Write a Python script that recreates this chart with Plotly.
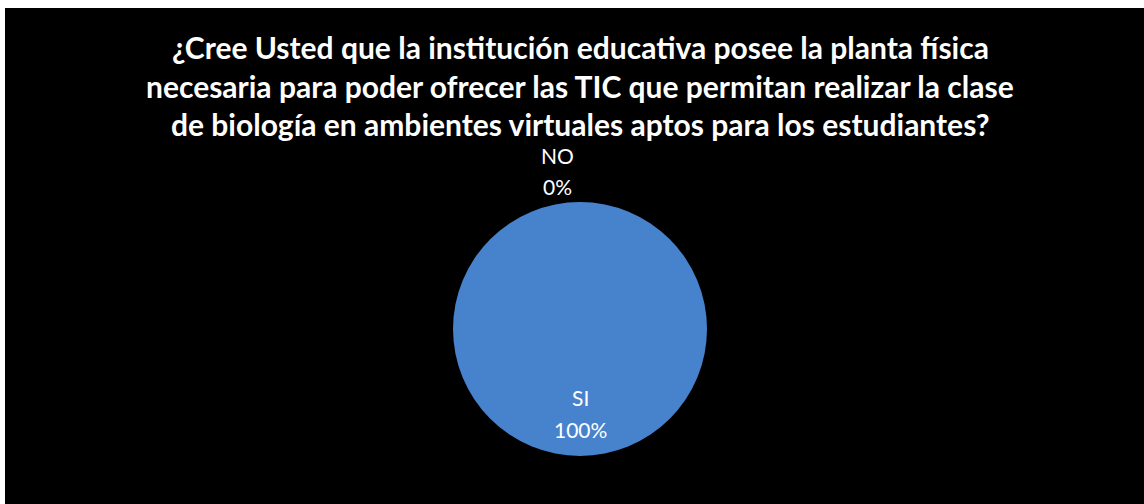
import plotly.graph_objects as go

# Survey answers
categories = ["SI", "NO"]
percentages = [100, 0]
title_lines = [
    "¿Cree Usted que la institución educativa posee la planta física",
    "necesaria para poder ofrecer las TIC que permitan realizar la clase",
    "de biología en ambientes virtuales aptos para los estudiantes?",
]

W, H = 1144, 504
PIE_BLUE = "#4782CD"


def px(x):
    return x / W


def py(y):
    return 1 - y / H


fig = go.Figure(
    go.Pie(
        labels=categories,
        values=percentages,
        sort=False,
        direction="clockwise",
        rotation=0,
        marker=dict(colors=[PIE_BLUE, "#C0504D"], line=dict(width=0)),
        textinfo="none",
        hoverinfo="label+percent",
        showlegend=False,
        domain=dict(x=[px(580 - 127), px(580 + 127)], y=[py(456), py(202)]),
    )
)

# Black chart area inside a thin white frame
shapes = [
    dict(type="rect", xref="paper", yref="paper", x0=px(5), x1=1, y0=0, y1=py(8),
         fillcolor="black", line=dict(width=0), layer="below")
]

annotations = []
title_y = [47, 86, 124]
for line, y in zip(title_lines, title_y):
    annotations.append(dict(
        text=f"<b>{line}</b>", x=px(580), y=py(y), xref="paper", yref="paper",
        xanchor="center", yanchor="middle", showarrow=False,
        font=dict(family="Lato, Open Sans, sans-serif", size=30, color="white"),
    ))

# Category / percentage labels for each slice
label_pos = {"SI": (580, 397, 429), "NO": (557, 155, 186)}
for cat, val in zip(categories, percentages):
    x, y1, y2 = label_pos[cat]
    for txt, y in ((cat, y1), (f"{val}%", y2)):
        annotations.append(dict(
            text=txt, x=px(x), y=py(y), xref="paper", yref="paper",
            xanchor="center", yanchor="middle", showarrow=False,
            font=dict(family="Lato, Open Sans, sans-serif", size=21, color="white"),
        ))

fig.update_layout(
    width=W, height=H,
    margin=dict(l=0, r=0, t=0, b=0),
    paper_bgcolor="white",
    plot_bgcolor="black",
    shapes=shapes,
    annotations=annotations,
)

fig.write_html("out.html")
